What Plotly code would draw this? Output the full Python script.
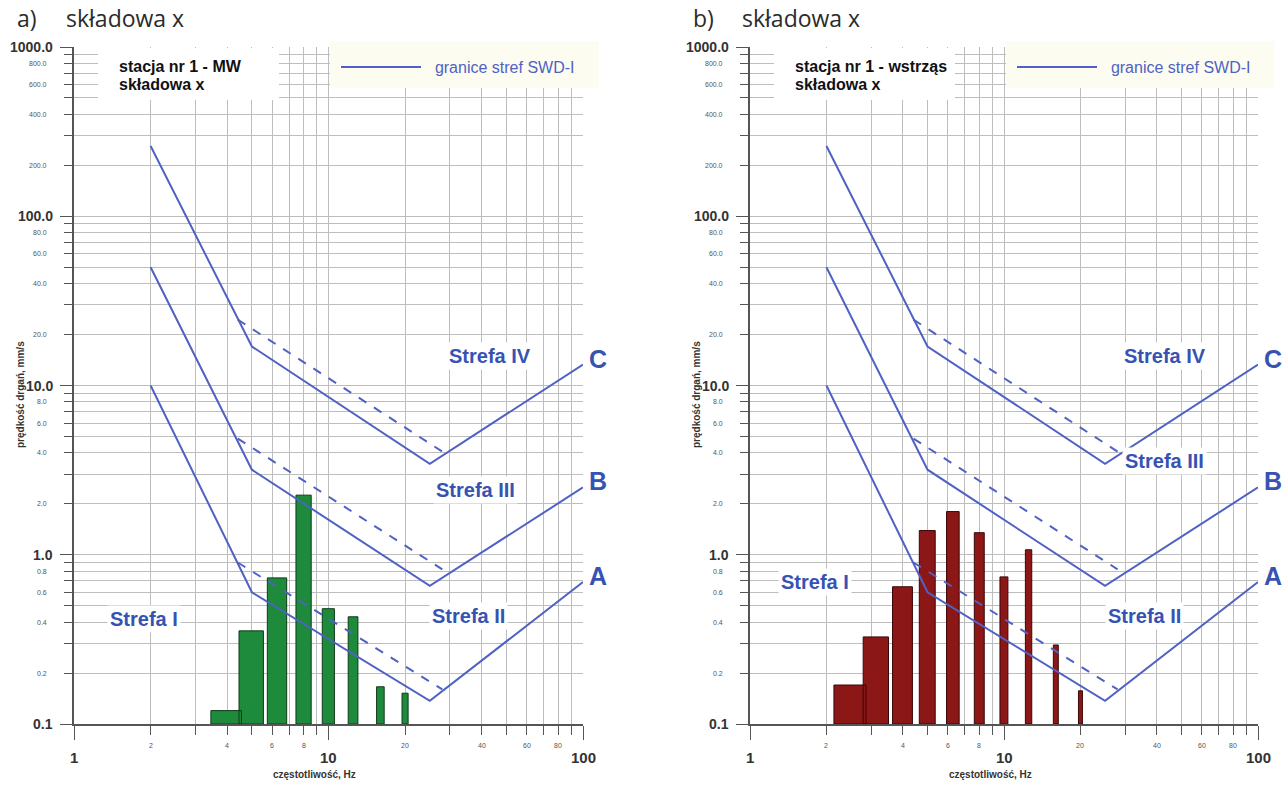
import math
import plotly.graph_objects as go

# 1/3-octave band centre frequencies [Hz] and peak vibration velocities [mm/s]
freq_mw = [4, 5, 6.3, 8, 10, 12.5, 16, 20]
vel_mw = [0.12, 0.355, 0.73, 2.25, 0.48, 0.43, 0.166, 0.152]

freq_tremor = [2.5, 3.15, 4, 5, 6.3, 8, 10, 12.5, 16, 20]
vel_tremor = [0.17, 0.327, 0.647, 1.39, 1.80, 1.35, 0.74, 1.07, 0.293, 0.157]

# SWD-I zone boundaries (solid) and their shifted variants (dashed)
bound_freq = [2, 5, 25, 100]
bound_A = [10, 0.6, 0.137, 0.69]
bound_B = [50, 3.18, 0.655, 2.5]
bound_C = [260, 17, 3.45, 13.3]
dash_freq = [4.4, 28]
dash_A = [0.9, 0.16]
dash_B = [4.86, 0.82]
dash_C = [24.5, 4.07]

# axis labels
y_decades = [0.1, 1, 10, 100, 1000]
y_minor_labels = [0.2, 0.4, 0.6, 0.8, 2, 4, 6, 8, 20, 40, 60, 80, 200, 400, 600, 800]
x_decades = [1, 10, 100]
x_minor_labels = [2, 4, 6, 8, 20, 40, 60, 80]

W, H = 1287, 785
BLUE = "#4f62c3"
LABEL_BLUE = "#3653b3"
FONT = "Liberation Sans, Arial, sans-serif"
TITLE_FONT = "Open Sans, sans-serif"
GRID = "#bdbdbd"

y_minor_ticks = [m * 10 ** e for e in range(-1, 3) for m in range(2, 10)]
x_minor_ticks = [m * 10 ** e for e in range(0, 2) for m in range(2, 10)]

panels = [
    dict(xa="x", ya="y", x0=74, x1=583, legend="legend", title="a)",
         station="stacja nr 1 - MW", freq=freq_mw, vel=vel_mw,
         bar_w=1.1, fill="#1e8a3c", edge="#0e3a18",
         zones=[("Strefa IV", 43, 14.9), ("Strefa III", 37.7, 2.4),
                ("Strefa II", 35.6, 0.435), ("Strefa I", 1.88, 0.42)]),
    dict(xa="x2", ya="y2", x0=750, x1=1258, legend="legend2", title="b)",
         station="stacja nr 1 - wstrząs", freq=freq_tremor, vel=vel_tremor,
         bar_w=0.72, fill="#8c1717", edge="#3a0707",
         zones=[("Strefa IV", 43, 14.9), ("Strefa III", 43, 3.6),
                ("Strefa II", 35.6, 0.435), ("Strefa I", 1.8, 0.69)]),
]

PLOT_TOP, PLOT_BOTTOM = 47, 724


def px(x):
    return x / W


def py(y):
    return 1 - y / H


def bar_outline(freqs, vels, width, base=0.1):
    xs, ys = [], []
    for f, v in zip(freqs, vels):
        a, b = f - width / 2, f + width / 2
        xs += [a, a, b, b, a, None]
        ys += [base, v, v, base, base, None]
    return xs, ys


fig = go.Figure()
annotations = []
shapes = []

for i, p in enumerate(panels):
    xa, ya = p["xa"], p["ya"]
    x0 = p["x0"]

    # station info box and legend background
    shapes.append(dict(type="rect", xref="paper", yref="paper",
                       x0=px(x0 + 24), x1=px(x0 + 205), y0=py(100), y1=py(PLOT_TOP + 1),
                       fillcolor="white", line_width=0, layer="above"))
    shapes.append(dict(type="rect", xref="paper", yref="paper",
                       x0=px(x0 + 256), x1=px(p["x1"] + 16), y0=py(88), y1=py(41),
                       fillcolor="#fdfcf0", line_width=0, layer="above"))

    # measured velocity bars
    bx, by = bar_outline(p["freq"], p["vel"], p["bar_w"])
    fig.add_trace(go.Scatter(x=bx, y=by, mode="lines", fill="toself",
                             fillcolor=p["fill"], line=dict(color=p["edge"], width=1),
                             xaxis=xa, yaxis=ya, showlegend=False, hoverinfo="skip"))

    # zone boundaries
    for k, vals in enumerate([bound_A, bound_B, bound_C]):
        fig.add_trace(go.Scatter(x=bound_freq, y=vals, mode="lines",
                                 line=dict(color=BLUE, width=2),
                                 xaxis=xa, yaxis=ya,
                                 name="&nbsp;&nbsp;granice stref SWD-I",
                                 legend=p["legend"], showlegend=(k == 0)))
    for vals in [dash_A, dash_B, dash_C]:
        fig.add_trace(go.Scatter(x=dash_freq, y=vals, mode="lines",
                                 line=dict(color=BLUE, width=2, dash="dash"),
                                 xaxis=xa, yaxis=ya, showlegend=False))

    # panel title
    annotations.append(dict(xref="paper", yref="paper", x=px(x0 - 59), y=py(18),
                            text=p["title"], showarrow=False,
                            xanchor="left", yanchor="middle",
                            font=dict(family=TITLE_FONT, size=23, color="#2b2b2b")))
    annotations.append(dict(xref="paper", yref="paper", x=px(x0 - 10), y=py(18),
                            text="składowa x", showarrow=False,
                            xanchor="left", yanchor="middle",
                            font=dict(family=TITLE_FONT, size=23, color="#2b2b2b")))

    # station box text
    for line_text, ly in [(p["station"], 67), ("składowa x", 85)]:
        annotations.append(dict(xref="paper", yref="paper", x=px(x0 + 43), y=py(ly),
                                text=f"<b>{line_text}</b>", showarrow=False,
                                xanchor="left", yanchor="middle",
                                font=dict(family=FONT, size=16, color="#111")))

    # zone names
    for name, f, v in p["zones"]:
        annotations.append(dict(xref=xa, yref=ya, x=math.log10(f), y=math.log10(v),
                                text=f"<b>{name}</b>", showarrow=False, bgcolor="white",
                                borderpad=2, xanchor="center", yanchor="middle",
                                font=dict(family=FONT, size=20, color=LABEL_BLUE)))
    # boundary letters
    for letter, v in [("A", bound_A[-1]), ("B", bound_B[-1]), ("C", bound_C[-1])]:
        annotations.append(dict(xref=f"{xa} domain", yref=ya, x=1, y=math.log10(v),
                                xshift=15, yshift=6, text=f"<b>{letter}</b>",
                                showarrow=False, xanchor="center", yanchor="middle",
                                font=dict(family=FONT, size=25, color=LABEL_BLUE)))

    # y tick labels
    for v in y_decades:
        annotations.append(dict(xref=f"{xa} domain", yref=ya, x=0, y=math.log10(v),
                                xshift=-19, text=f"<b>{v:.1f}</b>", showarrow=False,
                                xanchor="right", yanchor="middle",
                                font=dict(family=FONT, size=14, color="#333")))
    for v in y_minor_labels:
        annotations.append(dict(xref=f"{xa} domain", yref=ya, x=0, y=math.log10(v),
                                xshift=-25, text=f"{v:.1f}", showarrow=False,
                                xanchor="right", yanchor="middle",
                                font=dict(family=FONT, size=7, color="#555")))
    # x tick labels
    for v in x_decades:
        annotations.append(dict(xref=xa, yref=f"{ya} domain", x=math.log10(v), y=0,
                                yshift=-33, text=f"<b>{v}</b>", showarrow=False,
                                xanchor="center", yanchor="middle",
                                font=dict(family=FONT, size=15, color="#333")))
    for v in x_minor_labels:
        annotations.append(dict(xref=xa, yref=f"{ya} domain", x=math.log10(v), y=0,
                                yshift=-21, text=f"{v}", showarrow=False,
                                xanchor="center", yanchor="middle",
                                font=dict(family=FONT, size=7, color="#555")))

    # axis titles
    annotations.append(dict(xref="paper", yref="paper", x=px(x0 + 240), y=py(774),
                            text="<b>częstotliwość, Hz</b>", showarrow=False,
                            xanchor="center", yanchor="middle",
                            font=dict(family=FONT, size=10, color="#333")))
    annotations.append(dict(xref="paper", yref="paper", x=px(x0 - 54), y=py(395),
                            text="<b>prędkość drgań, mm/s</b>", textangle=-90,
                            showarrow=False, xanchor="center", yanchor="middle",
                            font=dict(family=FONT, size=10, color="#333")))

axis_common = dict(type="log", showgrid=True, gridcolor=GRID, gridwidth=1.2,
                   showline=True, linecolor="#555", linewidth=1.5,
                   ticks="outside", tickcolor="#555", tickwidth=1.2,
                   showticklabels=False, zeroline=False, fixedrange=True)

layout = dict(
    width=W, height=H, margin=dict(l=0, r=0, t=0, b=0),
    paper_bgcolor="white", plot_bgcolor="white",
    font=dict(family=FONT),
    annotations=annotations, shapes=shapes,
)
for i, p in enumerate(panels):
    sfx = "" if i == 0 else "2"
    layout[f"xaxis{sfx}"] = dict(axis_common, domain=[px(p["x0"]), px(p["x1"])], range=[0, 2],
                                 tickvals=x_decades, ticklen=14, anchor=f"y{sfx}",
                                 minor=dict(tickvals=x_minor_ticks, ticks="outside", ticklen=9,
                                            tickcolor="#555", showgrid=True,
                                            gridcolor=GRID, gridwidth=1.2))
    layout[f"yaxis{sfx}"] = dict(axis_common, domain=[py(PLOT_BOTTOM), py(PLOT_TOP)], range=[-1, 3],
                                 tickvals=y_decades, ticklen=12, anchor=f"x{sfx}",
                                 minor=dict(tickvals=y_minor_ticks, ticks="outside", ticklen=8,
                                            tickcolor="#555", showgrid=True,
                                            gridcolor=GRID, gridwidth=1.2))
    layout[p["legend"]] = dict(xref="paper", yref="paper", x=px(p["x0"] + 262), y=py(67),
                               xanchor="left", yanchor="middle", bgcolor="rgba(0,0,0,0)",
                               itemwidth=80, font=dict(family=FONT, size=16, color=BLUE))

fig.update_layout(**layout)
fig.write_html("out.html")
